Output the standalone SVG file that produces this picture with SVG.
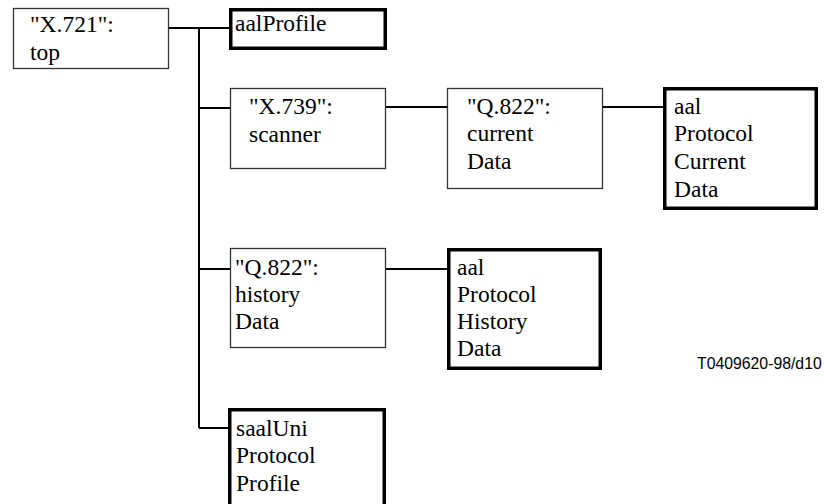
<svg xmlns="http://www.w3.org/2000/svg" width="824" height="504" viewBox="0 0 824 504">
<style>
.thin{fill:#fff;stroke:#333;stroke-width:1.3}
.thick{fill:#fff;stroke:#000;stroke-width:3.5}
.c{stroke:#000;stroke-width:2;fill:none}
.t{font-family:'Liberation Serif','Times New Roman',serif;font-size:23.5px;fill:#000}
.lbl{font-family:'Liberation Sans',Arial,sans-serif;font-size:15.8px;fill:#000}
</style>
<rect width="824" height="504" fill="#fff"/>
<g id="connectors">
<line class="c" x1="169" y1="28" x2="229" y2="28"/>
<line class="c" x1="199" y1="28" x2="199" y2="428"/>
<line class="c" x1="199" y1="108" x2="230" y2="108"/>
<line class="c" x1="386" y1="107" x2="447" y2="107"/>
<line class="c" x1="603" y1="107" x2="663" y2="107"/>
<line class="c" x1="199" y1="269" x2="230" y2="269"/>
<line class="c" x1="386" y1="269" x2="447" y2="269"/>
<line class="c" x1="199" y1="428" x2="229" y2="428"/>
</g>
<g id="top">
<rect class="thin" x="13.5" y="8.5" width="155" height="60"/>
<text class="t" x="30" y="32">"X.721":</text>
<text class="t" x="30" y="60">top</text>
</g>
<g id="aalProfile">
<rect class="thick" x="230.75" y="9.75" width="154.5" height="38.5"/>
<text class="t" x="235" y="31">aalProfile</text>
</g>
<g id="scanner">
<rect class="thin" x="230.5" y="88.5" width="155" height="80"/>
<text class="t" x="249" y="114">"X.739":</text>
<text class="t" x="249" y="142">scanner</text>
</g>
<g id="currentData">
<rect class="thin" x="447.5" y="88.5" width="155" height="100"/>
<text class="t" x="467" y="114">"Q.822":</text>
<text class="t" x="467" y="141">current</text>
<text class="t" x="467" y="169">Data</text>
</g>
<g id="aalProtocolCurrentData">
<rect class="thick" x="664.75" y="88.75" width="151.5" height="119.5"/>
<text class="t" x="674" y="114">aal</text>
<text class="t" x="674" y="141">Protocol</text>
<text class="t" x="674" y="169">Current</text>
<text class="t" x="674" y="197">Data</text>
</g>
<g id="historyData">
<rect class="thin" x="230.5" y="248.5" width="155" height="99"/>
<text class="t" x="235" y="275">"Q.822":</text>
<text class="t" x="235" y="302">history</text>
<text class="t" x="235" y="329">Data</text>
</g>
<g id="aalProtocolHistoryData">
<rect class="thick" x="448.75" y="249.75" width="151.5" height="118.5"/>
<text class="t" x="457" y="275">aal</text>
<text class="t" x="457" y="302">Protocol</text>
<text class="t" x="457" y="329">History</text>
<text class="t" x="457" y="356">Data</text>
</g>
<g id="saalUniProtocolProfile">
<rect class="thick" x="229.75" y="409.75" width="154.5" height="100"/>
<text class="t" x="236" y="436">saalUni</text>
<text class="t" x="236" y="463">Protocol</text>
<text class="t" x="236" y="491">Profile</text>
</g>
<text class="lbl" x="697" y="369">T0409620-98/d10</text>
</svg>
